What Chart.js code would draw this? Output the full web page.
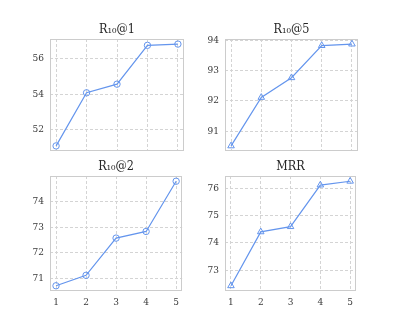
<!DOCTYPE html>
<html>
<head>
<meta charset="utf-8">
<script src="https://cdn.jsdelivr.net/npm/chart.js@4/dist/chart.umd.min.js"></script>
<style>
  body { margin: 0; background: #fff; }
  .box { position: absolute; }
</style>
</head>
<body>
<div class="box" style="left:10px; top:19px; width:174px; height:144px"><canvas id="c1"></canvas></div>
<div class="box" style="left:185px; top:19px; width:173px; height:144px"><canvas id="c2"></canvas></div>
<div class="box" style="left:10px; top:156px; width:174px; height:155px"><canvas id="c3"></canvas></div>
<div class="box" style="left:185px; top:156px; width:173px; height:155px"><canvas id="c4"></canvas></div>
<script>
// === DADOS ===
const steps = [1, 2, 3, 4, 5];
const r10at1 = [51.06, 54.07, 54.56, 56.76, 56.83];
const r10at5 = [90.51, 92.11, 92.76, 93.82, 93.87];
const r10at2 = [70.70, 71.11, 72.57, 72.83, 74.80];
const mrr = [72.43, 74.40, 74.59, 76.11, 76.25];

const ticksR1 = [52, 54, 56];
const ticksR5 = [91, 92, 93, 94];
const ticksR2 = [71, 72, 73, 74];
const ticksMrr = [73, 74, 75, 76];

const lineColor = '#6495ed';
const gridColor = '#d4d4d4';
const fontFamily = "'DejaVu Serif Condensed', 'DejaVu Serif', serif";

// moldura cinza + titulo centrado na area do grafico
const frame = {
  id: 'frame',
  beforeDatasetsDraw(chart) {
    const a = chart.chartArea;
    const ctx = chart.ctx;
    ctx.save();
    ctx.strokeStyle = '#cccccc';
    ctx.lineWidth = 1;
    ctx.strokeRect(Math.round(a.left) + 0.5, Math.round(a.top) + 0.5,
      Math.round(a.right - a.left) - 1, Math.round(a.bottom - a.top) - 1);
    ctx.restore();
  },
  afterDraw(chart, args, opts) {
    const a = chart.chartArea;
    const ctx = chart.ctx;
    ctx.save();
    ctx.fillStyle = '#262626';
    ctx.font = '12.5px ' + fontFamily;
    ctx.textAlign = 'center';
    ctx.textBaseline = 'alphabetic';
    ctx.fillText(opts.text, (a.left + a.right) / 2, a.top - 6.5);
    ctx.restore();
  }
};

// 5% de margem como no matplotlib
function pad(values) {
  const lo = Math.min(...values), hi = Math.max(...values);
  const m = (hi - lo) * 0.05;
  return [lo - m, hi + m];
}

function criarGrafico(id, titulo, values, yTicks, marker, showX) {
  const [ymin, ymax] = pad(values);
  new Chart(document.getElementById(id), {
    type: 'line',
    data: {
      datasets: [{
        data: steps.map((s, i) => ({ x: s, y: values[i] })),
        borderColor: lineColor,
        borderWidth: 1.2,
        pointStyle: marker,
        pointRadius: marker === 'triangle' ? 3.8 : 3.2,
        pointBorderWidth: 1,
        pointBorderColor: lineColor,
        pointBackgroundColor: 'rgba(0,0,0,0)',
        tension: 0
      }]
    },
    options: {
      responsive: true,
      maintainAspectRatio: false,
      animation: false,
      layout: { padding: { top: 20 }, autoPadding: false },
      plugins: {
        legend: { display: false },
        tooltip: { enabled: false },
        frame: { text: titulo }
      },
      scales: {
        x: {
          type: 'linear',
          min: 0.8,
          max: 5.2,
          afterBuildTicks: axis => { axis.ticks = steps.map(v => ({ value: v })); },
          afterFit: axis => { axis.height = showX ? 20 : 10; },
          grid: { color: gridColor, drawTicks: false },
          border: { display: false, dash: [3, 2] },
          ticks: {
            display: showX,
            padding: 5,
            color: '#3a3a3a',
            font: { family: fontFamily, size: 10 }
          }
        },
        y: {
          min: ymin,
          max: ymax,
          afterBuildTicks: axis => { axis.ticks = yTicks.map(v => ({ value: v })); },
          afterFit: axis => { axis.width = 40; },
          grid: { color: gridColor, drawTicks: false },
          border: { display: false, dash: [3, 2] },
          ticks: {
            padding: 6,
            color: '#3a3a3a',
            font: { family: fontFamily, size: 10 }
          }
        }
      }
    },
    plugins: [frame]
  });
}

criarGrafico('c1', 'R\u2081\u2080@1', r10at1, ticksR1, 'circle', false);
criarGrafico('c2', 'R\u2081\u2080@5', r10at5, ticksR5, 'triangle', false);
criarGrafico('c3', 'R\u2081\u2080@2', r10at2, ticksR2, 'circle', true);
criarGrafico('c4', 'MRR', mrr, ticksMrr, 'triangle', true);
</script>
</body>
</html>
